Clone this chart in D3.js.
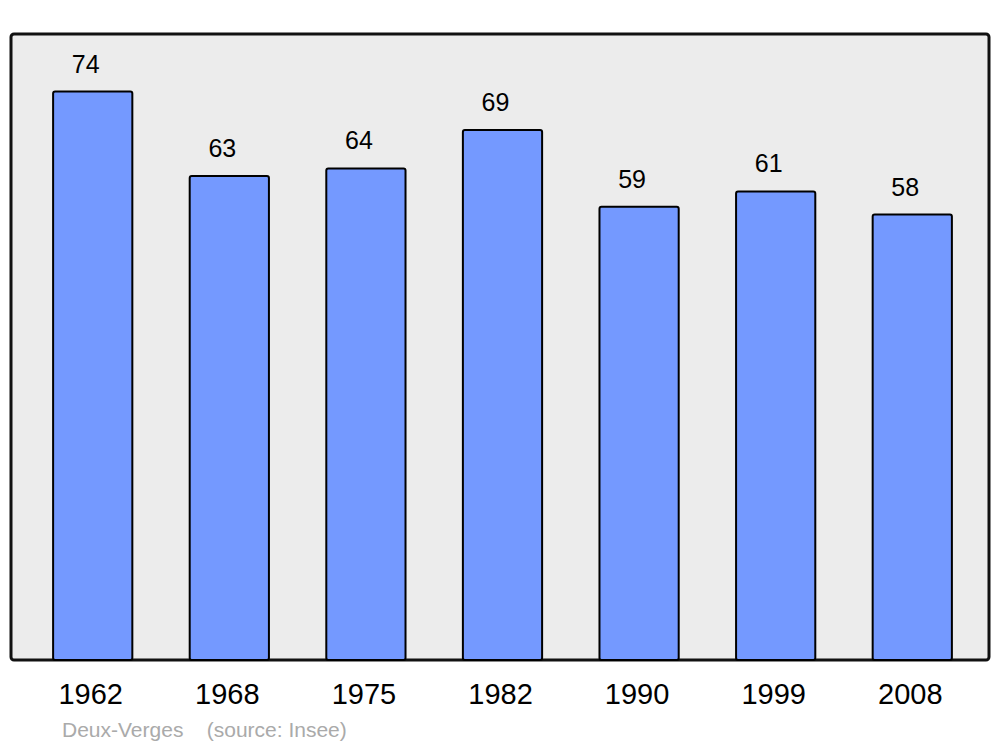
<!DOCTYPE html>
<meta charset="UTF-8">
<style>
    body { margin: 0; background: #fff; }
    text { font-family: "Liberation Sans", Arial, sans-serif; }
</style>
<body>
<div id="chart"></div>
<script src="https://d3js.org/d3.v7.min.js"></script>
<script>
    // population of Deux-Verges by census year
    var years = ["1962", "1968", "1975", "1982", "1990", "1999", "2008"];
    var population = [74, 63, 64, 69, 59, 61, 58];

    var width = 1000, height = 747;
    var frame = {left: 11, right: 989, top: 34, bottom: 660};

    var svg = d3.select("#chart").append("svg")
            .attr("width", width)
            .attr("height", height);

    // plot background
    svg.append("rect")
            .attr("x", frame.left)
            .attr("y", frame.top)
            .attr("width", frame.right - frame.left)
            .attr("height", frame.bottom - frame.top)
            .attr("rx", 3)
            .style("fill", "#ececec")
            .style("stroke", "#111")
            .style("stroke-width", 3);

    var x = d3.scaleBand()
            .domain(years)
            .range([13.5, 991.5])
            .paddingInner(0.42)
            .paddingOuter(0.29);

    var y = d3.scaleLinear()
            .domain([0, 81.5])
            .range([frame.bottom, frame.top]);

    var data = years.map(function (d, i) {
        return {year: d, value: population[i]};
    });

    svg.selectAll("rect.bar")
            .data(data)
            .enter().append("rect")
            .attr("class", "bar")
            .attr("x", function (d) { return x(d.year); })
            .attr("y", function (d) { return y(d.value); })
            .attr("width", x.bandwidth())
            .attr("height", function (d) { return y(0) - y(d.value); })
            .attr("rx", 2)
            .style("fill", "#7499ff")
            .style("stroke", "#000")
            .style("stroke-width", 2);

    // value labels above the bars
    svg.selectAll("text.value")
            .data(data)
            .enter().append("text")
            .attr("class", "value")
            .attr("x", function (d) { return x(d.year) + x.bandwidth() / 2 - 7; })
            .attr("y", function (d) { return y(d.value) - 19; })
            .attr("text-anchor", "middle")
            .style("font-size", "25px")
            .text(function (d) { return d.value; });

    // year labels
    var xAxis = d3.axisBottom(x).tickSize(0).tickPadding(0);
    var axis = svg.append("g")
            .attr("transform", "translate(-2," + frame.bottom + ")")
            .call(xAxis);
    axis.select(".domain").remove();
    axis.selectAll("text")
            .attr("dy", 0)
            .attr("y", 44)
            .style("font-family", "Liberation Sans, Arial, sans-serif")
            .style("font-size", "29px")
            .style("fill", "#000");

    svg.append("text")
            .attr("x", 62)
            .attr("y", 737)
            .style("font-size", "21px")
            .style("fill", "#aaa")
            .attr("xml:space", "preserve")
            .style("white-space", "pre")
            .text("Deux-Verges    (source: Insee)");
</script>
</body>
